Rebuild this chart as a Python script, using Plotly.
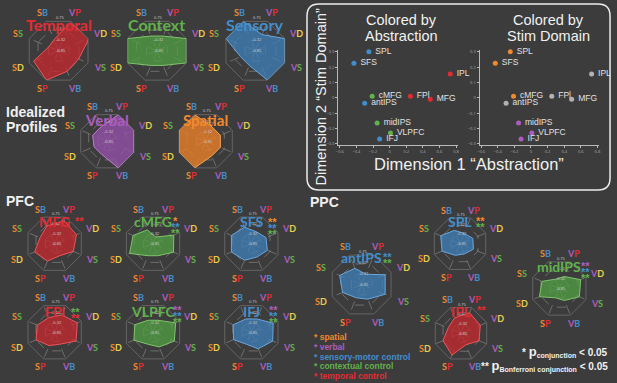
import math
import plotly.graph_objects as go

W, H = 617, 383

# ---------------- data ----------------
AXES = ['SB', 'VP', 'VD', 'VS', 'VB', 'SP', 'SD', 'SS']

temporal = [0.38, 0.95, 1.05, 0.68, 0.70, 1.00, 0.85, 0.33]
context = [0.50, 0.50, 1.00, 1.00, 0.50, 0.50, 1.00, 1.00]
sensory = [1.00, 0.55, 1.00, 1.00, 1.00, 0.50, 0.50, 1.00]
verbal = [0.55, 1.00, 1.00, 1.00, 1.00, 0.50, 0.50, 0.55]
spatial = [1.00, 0.55, 0.55, 0.55, 0.55, 1.00, 1.00, 1.00]

mfg = [0.68, 0.86, 0.82, 0.70, 0.45, 0.65, 0.75, 0.55]
cmfg = [0.52, 0.25, 0.78, 0.77, 0.45, 0.45, 0.88, 0.75]
sfs = [0.62, 0.45, 0.55, 0.60, 0.50, 0.62, 0.75, 0.75]
fpl = [0.55, 0.65, 0.85, 0.80, 0.45, 0.50, 0.70, 0.65]
vlpfc = [0.45, 0.45, 0.85, 0.80, 0.55, 0.45, 0.72, 0.68]
ifj = [0.50, 0.50, 0.82, 0.80, 0.62, 0.45, 0.67, 0.68]
spl = [0.52, 0.40, 0.50, 0.52, 0.40, 0.45, 0.70, 0.75]
antips = [0.55, 0.35, 0.80, 0.80, 0.50, 0.45, 0.65, 0.75]
midips = [0.35, 0.45, 0.80, 0.75, 0.45, 0.35, 0.75, 0.65]
ipl = [0.60, 0.80, 0.75, 0.70, 0.45, 0.85, 0.70, 0.50]

radial_tickvals = [0.0, 0.35, 0.70, 1.05]
radial_ticktext = ['-0.85', '-0.32', '0.32', '0.75']

regions = ['SPL', 'SFS', 'IPL', 'cMFG', 'antIPS', 'FPl', 'MFG', 'midIPS', 'VLPFC', 'IFJ']
dim1 = [-0.25, -0.43, 0.73, -0.21, -0.30, 0.25, 0.49, -0.15, 0.01, -0.12]
dim2 = [0.30, 0.225, 0.155, 0.01, -0.035, 0.01, -0.01, -0.165, -0.23, -0.27]
abstraction_group = ['sensory', 'sensory', 'temporal', 'context', 'sensory',
                     'temporal', 'temporal', 'context', 'context', 'sensory']
domain_group = ['spatial', 'spatial', 'none', 'spatial', 'none',
                'none', 'none', 'verbal', 'verbal', 'verbal']
xticks = [-0.6, -0.4, -0.2, 0, 0.2, 0.4, 0.6, 0.8]
yticks = [-0.3, -0.2, -0.1, 0, 0.1, 0.2, 0.3]

legend_items = ['spatial', 'verbal', 'sensory-motor control', 'contextual control', 'temporal control']

# ---------------- styles ----------------
BG = '#3c3c3c'
RED = 'rgb(226,44,52)'
GREEN = 'rgb(96,178,74)'
BLUE = 'rgb(66,142,204)'
ORANGE = 'rgb(242,137,44)'
PURPLE = 'rgb(172,92,190)'
YELLOW = 'rgb(228,208,78)'
GRAYPT = 'rgb(178,178,178)'
GRID = 'rgba(160,160,160,0.5)'

FILL = {RED: 'rgba(200,40,46,0.75)', GREEN: 'rgba(82,160,68,0.75)', BLUE: 'rgba(62,128,186,0.75)',
        ORANGE: 'rgba(232,126,40,0.8)', PURPLE: 'rgba(148,80,168,0.8)'}
LINEC = {RED: 'rgb(236,86,92)', GREEN: 'rgb(126,196,106)', BLUE: 'rgb(106,166,222)',
         ORANGE: 'rgb(248,166,86)', PURPLE: 'rgb(192,126,208)'}
GROUP_COLOR = {'sensory': BLUE, 'temporal': RED, 'context': GREEN,
               'spatial': ORANGE, 'verbal': PURPLE, 'none': GRAYPT}
LEGEND_COLOR = [ORANGE, PURPLE, BLUE, GREEN, RED]
FIRST = {'S': ORANGE, 'V': PURPLE}
SECOND = {'B': BLUE, 'P': RED, 'D': YELLOW, 'S': GREEN}
ANGLE = {'SB': 112.5, 'VP': 67.5, 'VD': 22.5, 'VS': -22.5, 'VB': -67.5,
         'SP': -112.5, 'SD': 202.5, 'SS': 157.5}

# radar layout: name, values, color, cx, cy, R, title_dy, title_size, stars, star_dx, star_dy
RADARS = [
    ('Temporal', temporal, RED, 57, 50, 32, -26, 16, [], 0, 0),
    ('Context', context, GREEN, 156, 50, 32, -26, 16, [], 0, 0),
    ('Sensory', sensory, BLUE, 255, 50, 32, -26, 16, [], 0, 0),
    ('Verbal', verbal, PURPLE, 106, 141, 29, -21, 15, [], 0, 0),
    ('Spatial', spatial, ORANGE, 205, 141, 29, -21, 15, [], 0, 0),
    ('MFG', mfg, RED, 53, 244, 29, -22, 14, [('**', RED)], 25, -26),
    ('cMFG', cmfg, GREEN, 152, 244, 29, -22, 14, [('*', ORANGE), ('**', BLUE), ('**', GREEN)], 23, -26),
    ('SFS', sfs, BLUE, 251, 244, 29, -22, 14, [('**', ORANGE), ('**', BLUE), ('**', GREEN)], 21, -25),
    ('FPl', fpl, RED, 53, 333, 29, -21, 14, [('**', GREEN), ('**', RED)], 21, -23),
    ('VLPFC', vlpfc, GREEN, 152, 333, 29, -21, 14, [('**', PURPLE), ('**', BLUE), ('**', GREEN)], 25, -25),
    ('IFJ', ifj, BLUE, 251, 333, 29, -21, 14, [('**', PURPLE), ('**', BLUE), ('**', GREEN)], 22, -25),
    ('SPL', spl, BLUE, 461, 244, 28, -22, 14, [('**', ORANGE), ('**', GREEN)], 21, -26),
    ('antIPS', antips, BLUE, 362, 285, 32, -27, 14, [('**', BLUE), ('**', GREEN)], 26, -31),
    ('midIPS', midips, GREEN, 561, 289, 29, -22, 14, [('**', PURPLE), ('**', BLUE), ('**', GREEN)], 26, -26),
    ('IPL', ipl, RED, 462, 334, 28, -22, 14, [('**', RED)], 21, -26),
]


def px(x):
    return x / W


def py(y):
    return 1 - y / H


fig = go.Figure()
annotations = []
layout = {}

for i, (name, vals, col, cx, cy, R, tdy, tsize, stars, sdx, sdy) in enumerate(RADARS):
    key = 'polar' if i == 0 else f'polar{i + 1}'
    layout[key] = dict(
        domain=dict(x=[px(cx - R), px(cx + R)], y=[py(cy + R), py(cy - R)]),
        bgcolor='rgba(0,0,0,0)',
        gridshape='linear',
        angularaxis=dict(direction='clockwise', rotation=112.5, showticklabels=False,
                         ticks='', linecolor=GRID, linewidth=0.8, gridcolor=GRID, gridwidth=0.7,
                         griddash='dash', categoryorder='array', categoryarray=AXES),
        radialaxis=dict(range=[0, 1.0], tickvals=[0.35, 0.7], showticklabels=False,
                        showline=False, ticks='', gridcolor=GRID, gridwidth=0.7, griddash='dash'),
    )
    fig.add_trace(go.Scatterpolar(
        r=vals + [vals[0]], theta=AXES + [AXES[0]], subplot=key, mode='lines',
        fill='toself', fillcolor=FILL[col], line=dict(color=LINEC[col], width=1),
        showlegend=False, hoverinfo='skip'))
    # radial tick labels (tiny, stacked above the centre)
    for tv, tt in zip(radial_tickvals, radial_ticktext):
        annotations.append(dict(x=px(cx + 2), y=py(cy - tv * R), xref='paper', yref='paper', text=tt,
                                showarrow=False, xanchor='center', yanchor='middle',
                                font=dict(family='Liberation Sans', size=4, color='rgb(200,200,200)')))
    # axis labels
    for ax in AXES:
        a = math.radians(ANGLE[ax])
        L = 1.4 * R if ax in ('VD', 'VS', 'SD', 'SS') else 1.3 * R
        lx = cx + L * math.cos(a)
        ly = cy - L * math.sin(a)
        txt_ = (f'<span style="color:{FIRST[ax[0]]}">{ax[0]}</span>'
                f'<span style="color:{SECOND[ax[1]]}">{ax[1]}</span>')
        annotations.append(dict(x=px(lx), y=py(ly), xref='paper', yref='paper', text=txt_,
                                showarrow=False, xanchor='center', yanchor='middle',
                                font=dict(family='Lato', size=9, weight='bold')))
    # title
    annotations.append(dict(x=px(cx), y=py(cy + tdy), xref='paper', yref='paper', text=f'<b>{name}</b>',
                            showarrow=False, xanchor='center', yanchor='middle',
                            font=dict(family='Lato', size=tsize, color=col)))
    for k, (s, scol) in enumerate(stars):
        annotations.append(dict(x=px(cx + sdx), y=py(cy + sdy + 6 * k + 3), xref='paper', yref='paper',
                                text=f'<b>{s}</b>', showarrow=False, xanchor='center', yanchor='middle',
                                font=dict(family='Liberation Sans', size=11, color=scol)))

# ---------------- scatter panels ----------------
XR = [-0.62, 0.82]
YR = [-0.31, 0.31]
sx0 = 340 - 0.02 * 83.6
sx1 = 457 + 0.02 * 83.6
off = 142.3
ydom = [py(145.0), py(49.6)]
for j, (groups, xa, ya) in enumerate([(abstraction_group, 'x', 'y'), (domain_group, 'x2', 'y2')]):
    fig.add_trace(go.Scatter(
        x=dim1, y=dim2, xaxis=xa, yaxis=ya, mode='markers+text',
        text=[' ' + r for r in regions], textposition='middle right',
        textfont=dict(family='Liberation Sans', size=8.5, color='rgb(225,225,225)'),
        marker=dict(size=5, color=[GROUP_COLOR[g] for g in groups]),
        showlegend=False, hoverinfo='skip', cliponaxis=False))
    axstyle = dict(showline=True, linecolor='rgb(185,185,185)', linewidth=1, ticks='outside',
                   ticklen=2, tickcolor='rgb(185,185,185)', showgrid=False, zeroline=False,
                   tickfont=dict(size=4, color='rgb(170,170,170)'))
    xkey = 'xaxis' if j == 0 else 'xaxis2'
    ykey = 'yaxis' if j == 0 else 'yaxis2'
    layout[xkey] = dict(domain=[px(sx0 + j * off), px(sx1 + j * off)], range=XR, tickvals=xticks,
                        anchor=ya, **axstyle)
    layout[ykey] = dict(domain=ydom, range=YR, tickvals=yticks, anchor=xa, **axstyle)

# box with rounded corners
bx0, by0, bx1, by1, rr = 307, 3, 612, 190, 12


def pt(x, y):
    return f'{px(x):.5f},{py(y):.5f}'


path = (f'M {pt(bx0 + rr, by0)} L {pt(bx1 - rr, by0)} Q {pt(bx1, by0)} {pt(bx1, by0 + rr)} '
        f'L {pt(bx1, by1 - rr)} Q {pt(bx1, by1)} {pt(bx1 - rr, by1)} '
        f'L {pt(bx0 + rr, by1)} Q {pt(bx0, by1)} {pt(bx0, by1 - rr)} '
        f'L {pt(bx0, by0 + rr)} Q {pt(bx0, by0)} {pt(bx0 + rr, by0)} Z')
shapes = [dict(type='path', path=path, xref='paper', yref='paper',
               line=dict(color='rgb(235,235,235)', width=1.5))]

WHITE = 'rgb(240,240,240)'


def txt(x, y, s, size, color=WHITE, xa='center', fam='Liberation Sans', angle=0):
    annotations.append(dict(x=px(x), y=py(y), xref='paper', yref='paper', text=s, showarrow=False,
                            xanchor=xa, yanchor='middle', textangle=angle,
                            font=dict(family=fam, size=size, color=color)))


txt(402, 19, 'Colored by', 14.5)
txt(402, 35, 'Abstraction', 14.5)
txt(550, 19, 'Colored by', 14.5)
txt(550, 35, 'Stim Domain', 14.5)
txt(470, 164, 'Dimension 1 “Abstraction”', 16.5)
txt(322, 96, 'Dimension 2 “Stim Domain”', 14.5, angle=-90)

txt(2, 112, '<b>Idealized</b>', 14, xa='left')
txt(2, 127, '<b>Profiles</b>', 14, xa='left')
txt(2, 201, '<b>PFC</b>', 14, xa='left')
txt(308, 202, '<b>PPC</b>', 14, xa='left')

for k, (item, col) in enumerate(zip(legend_items, LEGEND_COLOR)):
    txt(312, 338 + 9.7 * k, f'<b>* {item}</b>', 8.5, color=col, xa='left')

P = '<span style="font-size:13px">p</span>'
txt(612, 353, f'<b>* {P}<sub>conjunction</sub> &lt; 0.05</b>', 10)
annotations[-1]['xanchor'] = 'right'
txt(612, 367, f'<b>** {P}<sub>Bonferroni conjunction</sub> &lt; 0.05</b>', 10)
annotations[-1]['xanchor'] = 'right'

fig.update_layout(
    width=W, height=H, margin=dict(l=0, r=0, t=0, b=0),
    paper_bgcolor=BG, plot_bgcolor='rgba(0,0,0,0)',
    showlegend=False, annotations=annotations, shapes=shapes, **layout)

fig.write_html('out.html', config={'displayModeBar': False},
               post_script="document.body.style.margin='0';document.body.style.padding='0';")
